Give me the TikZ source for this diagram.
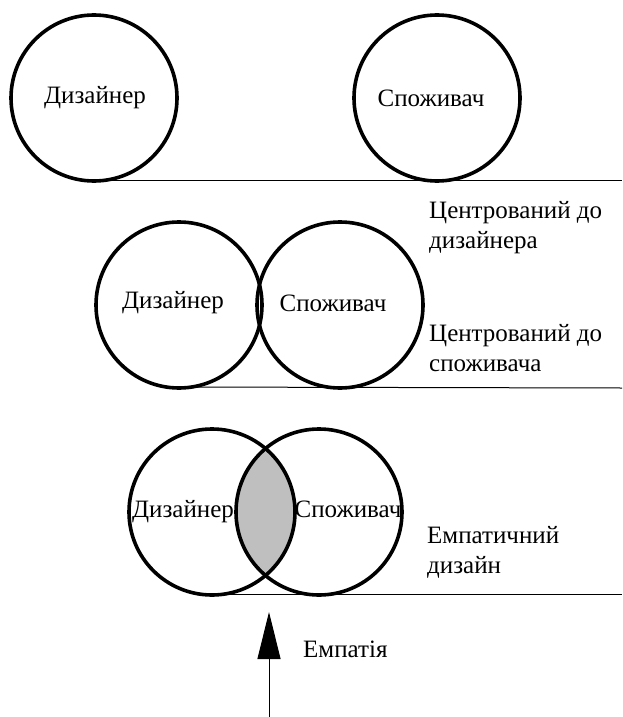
\documentclass[tikz,border=0pt]{standalone}
\usepackage{fontspec}
\setmainfont{Liberation Serif}
\usetikzlibrary{calc}
\usetikzlibrary{arrows.meta}
\usetikzlibrary{positioning}

\begin{document}
\begin{tikzpicture}[x=1pt,y=-1pt,font=\fontsize{25}{30}\selectfont]
		\tikzstyle{Ring} = [circle, draw=black, line width=3.6pt, minimum size=166pt, inner sep=0pt, outer sep=0pt]
		\tikzstyle{Base} = [line width=1pt, black]
		\tikzstyle{Label} = [inner sep=0pt]
		\tikzstyle{Caption} = [anchor=north west, align=left, inner sep=0pt]
		\useasboundingbox (0,0) rectangle (622,717);

		%Designer centred: circles apart
		\node[Ring] (D1) at (94,98){};
		\node[Ring] (S1) at (437,98){};
		\node[Label] (D1Label) at ($(D1) + (1,0)$){Дизайнер};
		\node[Label] (S1Label) at ($(S1) + (-6,0)$){Споживач};
		\coordinate (E1) at (622,180);
		\draw[Base] ($(D1.south) + (0,-1)$) -- (E1);

		%User centred: circles touching
		\node[Ring] (D2) at (179,305){};
		\node[Ring] (S2) at (340,305){};
		\node[Label] (D2Label) at ($(D2) + (-6,-2)$){Дизайнер};
		\node[Label] (S2Label) at ($(S2) + (-7,-2)$){Споживач};
		\coordinate (E2) at (622,388);
		\draw[Base] ($(D2.south) + (0,-1)$) -- (E2);

		\node[Caption] (CapD) at (429,201){Центрований до\\дизайнера};
		\node[Caption] (CapS) at (429,324){Центрований до\\споживача};

		%Empathic design: overlapping circles
		\coordinate (C3a) at (212,512);
		\coordinate (C3b) at (319,512);
		\begin{scope}
			\clip (C3a) circle (83);
			\fill[black!25] (C3b) circle (83);
		\end{scope}
		\node[Ring] (D3) at (C3a){};
		\node[Ring] (S3) at (C3b){};
		\coordinate (E3) at (622,594);
		\draw[Base] ($(D3.south) + (0,-1)$) -- (E3);

		\node[Label, anchor=base] (D3Label) at (183,517){Дизайнер};
		\node[Label, anchor=base] (S3Label) at (348,517){Споживач};
		\node[Caption] (CapE) at (427,526){Емпатичний\\дизайн};

		%Empathy arrow
		\coordinate (ArrowFoot) at (269,717);
		\coordinate (ArrowTip) at (269,612);
		\draw[Base, -{Triangle[width=23pt,length=47pt]}] (ArrowFoot) -- (ArrowTip);
		\node[Label, anchor=base west] (Empathy) at (303,657){Емпатія};
	\end{tikzpicture}
\end{document}
